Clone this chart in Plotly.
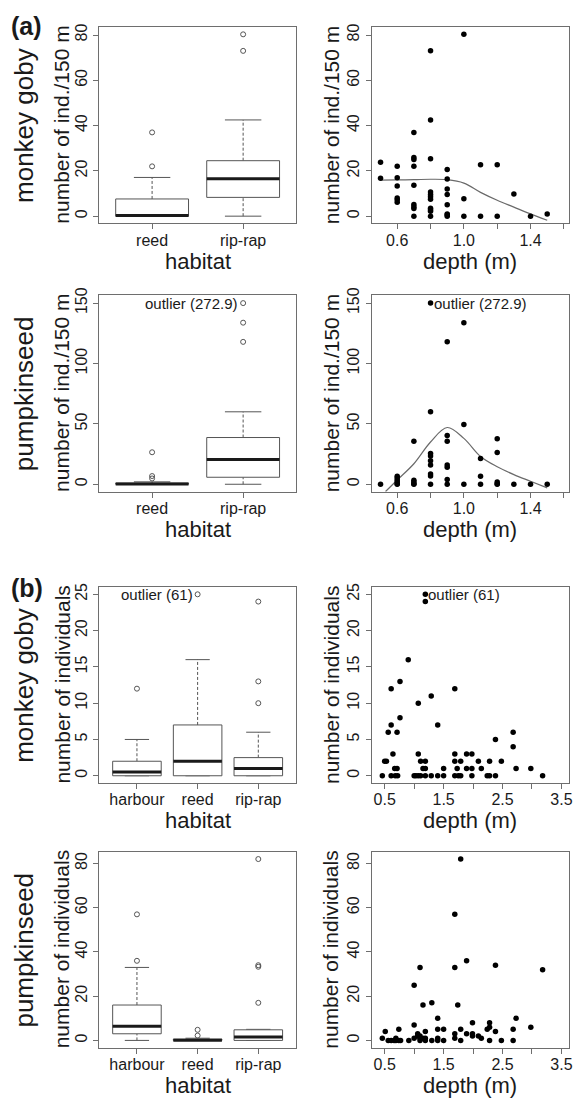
import plotly.graph_objects as go

# ---------------- data ----------------
# (a) box plots, habitat
a_habitats = ["reed", "rip-rap"]
a_goby_q1 = [0.0, 8.3]
a_goby_med = [0.3, 16.5]
a_goby_q3 = [7.6, 24.5]
a_goby_lo = [0.0, 0.0]
a_goby_hi = [17.1, 42.5]
a_goby_out = [[22.0, 37.0], [73.0, 80.3]]

a_pump_q1 = [0.0, 5.8]
a_pump_med = [0.2, 20.6]
a_pump_q3 = [1.0, 38.7]
a_pump_lo = [0.0, 0.0]
a_pump_hi = [2.0, 60.0]
a_pump_out = [[4.8, 6.8, 26.5], [117.9, 133.8, 272.9]]
a_pump_cap = 150.0

# (a) scatter, depth
a_goby_depth = [0.5, 0.5,
                0.6, 0.6, 0.6, 0.6, 0.6, 0.6,
                0.7, 0.7, 0.7, 0.7, 0.7, 0.7, 0.7, 0.7, 0.7,
                0.8, 0.8, 0.8, 0.8, 0.8, 0.8, 0.8, 0.8, 0.8, 0.8, 0.8,
                0.9, 0.9, 0.9, 0.9, 0.9, 0.9, 0.9, 0.9,
                1.0, 1.0, 1.0, 1.1, 1.1, 1.2, 1.2, 1.3, 1.4, 1.5]
a_goby_count = [23.8, 16.8,
                22, 17, 13.3, 8, 7.2, 6.1,
                37, 25.9, 25, 22, 13.7, 5.1, 4.2, 3.4, 0,
                73, 42.5, 25.4, 10.7, 9.6, 8.6, 7.5, 3.5, 2.8, 2.2, 0,
                20.6, 16.4, 12, 9.6, 5, 1, 0.6, 0,
                80.3, 7.7, 0, 22.7, 0, 22.7, 0, 9.8, 0, 1]
a_goby_smooth_depth = [0.5, 0.6, 0.7, 0.8, 0.9, 1.0, 1.1, 1.2, 1.3, 1.4, 1.5]
a_goby_smooth = [15.9, 16.0, 16.1, 16.3, 16.1, 14.6, 10.5, 7.0, 4.0, 1.0, -1.8]

a_pump_depth = [0.5,
                0.6, 0.6, 0.6, 0.6, 0.6, 0.6,
                0.7, 0.7, 0.7, 0.7, 0.7,
                0.8, 0.8, 0.8, 0.8, 0.8, 0.8, 0.8, 0.8, 0.8,
                0.9, 0.9, 0.9, 0.9, 0.9, 0.9, 0.9,
                1.0, 1.0, 1.0, 1.1, 1.1, 1.1,
                1.2, 1.2, 1.2, 1.2, 1.2, 1.3, 1.4, 1.5]
a_pump_count = [0,
                6.6, 5.2, 3.6, 2, 0.5, 0,
                35.6, 3.3, 1.9, 0.5, 0,
                272.9, 60, 25.5, 23.5, 19.5, 16, 8.5, 6.8, 0,
                118, 40.3, 35.6, 16, 14, 4, 0,
                133.8, 49.4, 0, 21.4, 6.6, 0,
                37.6, 26.3, 1.9, 0.5, 0, 0, 0, 0]
a_pump_smooth_depth = [0.53, 0.6, 0.7, 0.8, 0.9, 1.0, 1.1, 1.2, 1.3, 1.4, 1.5]
a_pump_smooth = [-6.0, 3.5, 17, 35, 47, 38, 23, 14.5, 8, 2.5, -3]

# (b) box plots, habitat
b_habitats = ["harbour", "reed", "rip-rap"]
b_goby_q1 = [0, 0, 0]
b_goby_med = [0.5, 2, 1]
b_goby_q3 = [2, 7, 2.5]
b_goby_lo = [0, 0, 0]
b_goby_hi = [5, 16, 6]
b_goby_out = [[12], [61], [10, 13, 24]]
b_goby_cap = 25.0

b_pump_q1 = [3, 0, 0]
b_pump_med = [6.4, 0.1, 1.5]
b_pump_q3 = [16, 0.6, 4.8]
b_pump_lo = [0, 0, 0]
b_pump_hi = [33, 1, 5]
b_pump_out = [[36, 57], [2.2, 4.8], [17, 33.3, 34, 82]]

# (b) scatter, depth
b_goby_depth = [0.46, 0.5, 0.53, 0.56, 0.61, 0.61, 0.61, 0.64, 0.67, 0.68, 0.71, 0.71, 0.72,
                0.76, 0.76, 0.9, 1.0, 1.03, 1.07, 1.07, 1.07, 1.11, 1.11, 1.15,
                1.19, 1.19, 1.19, 1.19, 1.19, 1.29, 1.29, 1.4, 1.4, 1.5, 1.5,
                1.69, 1.69, 1.69, 1.69, 1.73, 1.75, 1.79, 1.79, 1.89, 1.89,
                1.98, 1.98, 1.98, 2.09, 2.14, 2.24, 2.28, 2.28, 2.38, 2.38, 2.48,
                2.68, 2.68, 2.73, 2.98, 3.18]
b_goby_count = [0, 2, 2, 6, 12, 7, 0, 3, 1, 0, 6, 1, 0,
                13, 8, 16, 0, 0, 10, 3, 0, 2, 0, 1,
                61, 24, 2, 1, 0, 11, 0, 7, 0, 1, 0,
                12, 3, 2, 0, 1, 0, 2, 0, 3, 1,
                3, 1, 0, 2, 1, 0, 2, 0, 5, 0, 2,
                6, 4, 1, 1, 0]

b_pump_depth = [0.46, 0.51, 0.56, 0.61, 0.66, 0.69, 0.69, 0.74, 0.74, 0.77, 0.91,
                1.0, 1.0, 1.0, 1.06, 1.06, 1.1, 1.1, 1.1, 1.1, 1.15, 1.15,
                1.19, 1.19, 1.19, 1.3, 1.3, 1.4, 1.4, 1.4, 1.4, 1.5, 1.5,
                1.69, 1.69, 1.69, 1.69, 1.74, 1.79, 1.79, 1.79, 1.89, 1.89,
                1.99, 1.99, 1.99, 2.09, 2.14, 2.24, 2.28, 2.28, 2.28, 2.38, 2.38,
                2.48, 2.68, 2.68, 2.73, 2.98, 3.18]
b_pump_count = [1, 4, 0, 0, 0, 1, 0, 5, 0, 0, 0,
                25, 7, 1, 3, 2, 33, 2, 1, 0, 16, 1,
                4, 1, 0, 17, 0, 10, 5, 1, 0, 5, 0,
                57, 33, 3, 1, 16, 82, 5, 0, 36, 3,
                8, 3, 2, 2, 1, 5, 8, 6, 0, 34, 4,
                0, 5, 0, 10, 6, 32]

# ---------------- layout constants ----------------
W, H = 578, 1098
FONT = "Liberation Sans, Arial, Helvetica, sans-serif"
TXT = "#1a1a1a"
FRAME = "#6e6e6e"
LEFT = (100, 298)
RIGHT = (374.3, 572.5)
ROWS = [(19, 217), (289, 487.3), (583.3, 780.7), (850, 1047.3)]


def px(xp):
    return xp / W


def py(yp):
    return 1 - yp / H


fig = go.Figure()


def add_box(k, cats, q1, med, q3, lo, hi, outs, cap=None):
    xa, ya = "x%d" % k, "y%d" % k
    bx, by, mx, my, wx, wy, sx, sy, ox, oy = [], [], [], [], [], [], [], [], [], []
    for i in range(len(cats)):
        c = i + 1
        bx += [c - 0.4, c + 0.4, c + 0.4, c - 0.4, c - 0.4, None]
        by += [q1[i], q1[i], q3[i], q3[i], q1[i], None]
        mx += [c - 0.4, c + 0.4, None]
        my += [med[i], med[i], None]
        wx += [c, c, None, c, c, None]
        wy += [q3[i], hi[i], None, lo[i], q1[i], None]
        sx += [c - 0.2, c + 0.2, None, c - 0.2, c + 0.2, None]
        sy += [hi[i], hi[i], None, lo[i], lo[i], None]
        for v in outs[i]:
            ox.append(c)
            oy.append(min(v, cap) if cap is not None else v)
    fig.add_trace(go.Scatter(x=wx, y=wy, mode="lines", xaxis=xa, yaxis=ya,
                             line=dict(color="#555555", width=1, dash="3px,2px"), hoverinfo="skip"))
    fig.add_trace(go.Scatter(x=sx, y=sy, mode="lines", xaxis=xa, yaxis=ya,
                             line=dict(color="#555555", width=1), hoverinfo="skip"))
    fig.add_trace(go.Scatter(x=bx, y=by, mode="lines", xaxis=xa, yaxis=ya, fill="toself",
                             fillcolor="white", line=dict(color="#555555", width=1), hoverinfo="skip"))
    fig.add_trace(go.Scatter(x=mx, y=my, mode="lines", xaxis=xa, yaxis=ya,
                             line=dict(color="#1a1a1a", width=3), hoverinfo="skip"))
    fig.add_trace(go.Scatter(x=ox, y=oy, mode="markers", xaxis=xa, yaxis=ya,
                             marker=dict(symbol="circle-open", size=5, color="#555555",
                                         line=dict(width=1)), hoverinfo="skip"))


def add_scatter(k, xs, ys, cap=None, sx=None, sy=None):
    xa, ya = "x%d" % k, "y%d" % k
    yy = [min(v, cap) for v in ys] if cap is not None else ys
    if sx is not None:
        fig.add_trace(go.Scatter(x=sx, y=sy, mode="lines", xaxis=xa, yaxis=ya,
                                 line=dict(color="#6a6a6a", width=1.2, shape="spline"),
                                 hoverinfo="skip"))
    fig.add_trace(go.Scatter(x=xs, y=yy, mode="markers", xaxis=xa, yaxis=ya,
                             marker=dict(symbol="circle", size=5.5, color="black"),
                             hoverinfo="skip"))


add_box(1, a_habitats, a_goby_q1, a_goby_med, a_goby_q3, a_goby_lo, a_goby_hi, a_goby_out)
add_scatter(2, a_goby_depth, a_goby_count, sx=a_goby_smooth_depth, sy=a_goby_smooth)
add_box(3, a_habitats, a_pump_q1, a_pump_med, a_pump_q3, a_pump_lo, a_pump_hi, a_pump_out, cap=a_pump_cap)
add_scatter(4, a_pump_depth, a_pump_count, cap=a_pump_cap, sx=a_pump_smooth_depth, sy=a_pump_smooth)
add_box(5, b_habitats, b_goby_q1, b_goby_med, b_goby_q3, b_goby_lo, b_goby_hi, b_goby_out, cap=b_goby_cap)
add_scatter(6, b_goby_depth, b_goby_count, cap=b_goby_cap)
add_box(7, b_habitats, b_pump_q1, b_pump_med, b_pump_q3, b_pump_lo, b_pump_hi, b_pump_out)
add_scatter(8, b_pump_depth, b_pump_count)

axis_common = dict(showline=True, mirror=True, linecolor=FRAME, linewidth=1,
                   ticks="outside", ticklen=5, tickcolor=FRAME, tickwidth=1,
                   showgrid=False, zeroline=False, fixedrange=True,
                   tickfont=dict(family=FONT, size=16, color=TXT))

yranges = [[-3.2, 83.6], [-6.2, 156.8], [-1.0, 26.0], [-3.28, 85.28]]
ytickvals = [[0, 20, 40, 60, 80], [0, 50, 100, 150], [0, 5, 10, 15, 20, 25], [0, 20, 40, 60, 80]]

a_depth_ticks = [0.6, 0.8, 1.0, 1.2, 1.4, 1.6]
a_depth_labels = ["0.6", "", "1.0", "", "1.4", ""]
b_depth_ticks = [0.5, 1.0, 1.5, 2.0, 2.5, 3.0, 3.5]
b_depth_labels = ["0.5", "", "1.5", "", "2.5", "", "3.5"]

layout = dict(width=W, height=H, margin=dict(l=0, r=0, t=0, b=0),
              paper_bgcolor="white", plot_bgcolor="white", showlegend=False,
              font=dict(family=FONT, color=TXT))

for r in range(4):
    top, bot = ROWS[r]
    for c in range(2):
        k = r * 2 + c + 1
        L, R = LEFT if c == 0 else RIGHT
        xa = dict(axis_common, domain=[px(L), px(R)], anchor="y%d" % k, ticklabelstandoff=-3)
        if c == 0:
            cats = a_habitats if r < 2 else b_habitats
            n = len(cats)
            ext = 0.04 * n
            xa.update(range=[0.5 - ext, n + 0.5 + ext], tickvals=list(range(1, n + 1)), ticktext=cats)
        else:
            if r < 2:
                xa.update(range=[0.447, 1.628], tickvals=a_depth_ticks, ticktext=a_depth_labels)
            else:
                xa.update(range=[0.28, 3.62], tickvals=b_depth_ticks, ticktext=b_depth_labels)
        ya = dict(axis_common, domain=[py(bot), py(top)], anchor="x%d" % k,
                  range=yranges[r], tickvals=ytickvals[r], tickangle=-90)
        layout["xaxis%d" % k] = xa
        layout["yaxis%d" % k] = ya

ann = []


def text(x, y, s, size, angle=0, bold=False, xanchor="center", yanchor="middle"):
    ann.append(dict(x=px(x), y=py(y), xref="paper", yref="paper", text=("<b>%s</b>" % s) if bold else s,
                    showarrow=False, textangle=angle, xanchor=xanchor, yanchor=yanchor,
                    font=dict(family=FONT, size=size, color=TXT)))


species = ["monkey goby", "pumpkinseed", "monkey goby", "pumpkinseed"]
ytitles = ["number of ind./150 m", "number of ind./150 m", "number of individuals", "number of individuals"]
for r in range(4):
    top, bot = ROWS[r]
    mid = (top + bot) / 2
    text(24, mid, species[r], 26, angle=-90)
    text(LEFT[0] - 38, mid, ytitles[r], 21, angle=-90)
    text(RIGHT[0] - 41, mid, ytitles[r], 21, angle=-90)
    text((LEFT[0] + LEFT[1]) / 2, bot + 38, "habitat", 22)
    text((RIGHT[0] + RIGHT[1]) / 2, bot + 38, "depth (m)", 22)

text(27, 18, "(a)", 25, bold=True)
text(27, 584, "(b)", 25, bold=True)

# outlier labels (data coordinates)
ann.append(dict(x=2, y=a_pump_cap, xref="x3", yref="y3", text="outlier (%.1f)" % a_pump_out[1][2],
                showarrow=False, xanchor="right", xshift=-3, font=dict(family=FONT, size=15, color=TXT)))
ann.append(dict(x=0.8, y=a_pump_cap, xref="x4", yref="y4", text="outlier (%.1f)" % max(a_pump_count),
                showarrow=False, xanchor="left", xshift=1, font=dict(family=FONT, size=15, color=TXT)))
ann.append(dict(x=2, y=b_goby_cap, xref="x5", yref="y5", text="outlier (%d)" % b_goby_out[1][0],
                showarrow=False, xanchor="right", xshift=-3, font=dict(family=FONT, size=15, color=TXT)))
ann.append(dict(x=1.19, y=b_goby_cap, xref="x6", yref="y6", text="outlier (%d)" % max(b_goby_count),
                showarrow=False, xanchor="left", xshift=1, font=dict(family=FONT, size=15, color=TXT)))

layout["annotations"] = ann
fig.update_layout(**layout)
fig.write_html("out.html", config={"displayModeBar": False},
               post_script="document.body.style.margin='0';document.body.style.padding='0';")
